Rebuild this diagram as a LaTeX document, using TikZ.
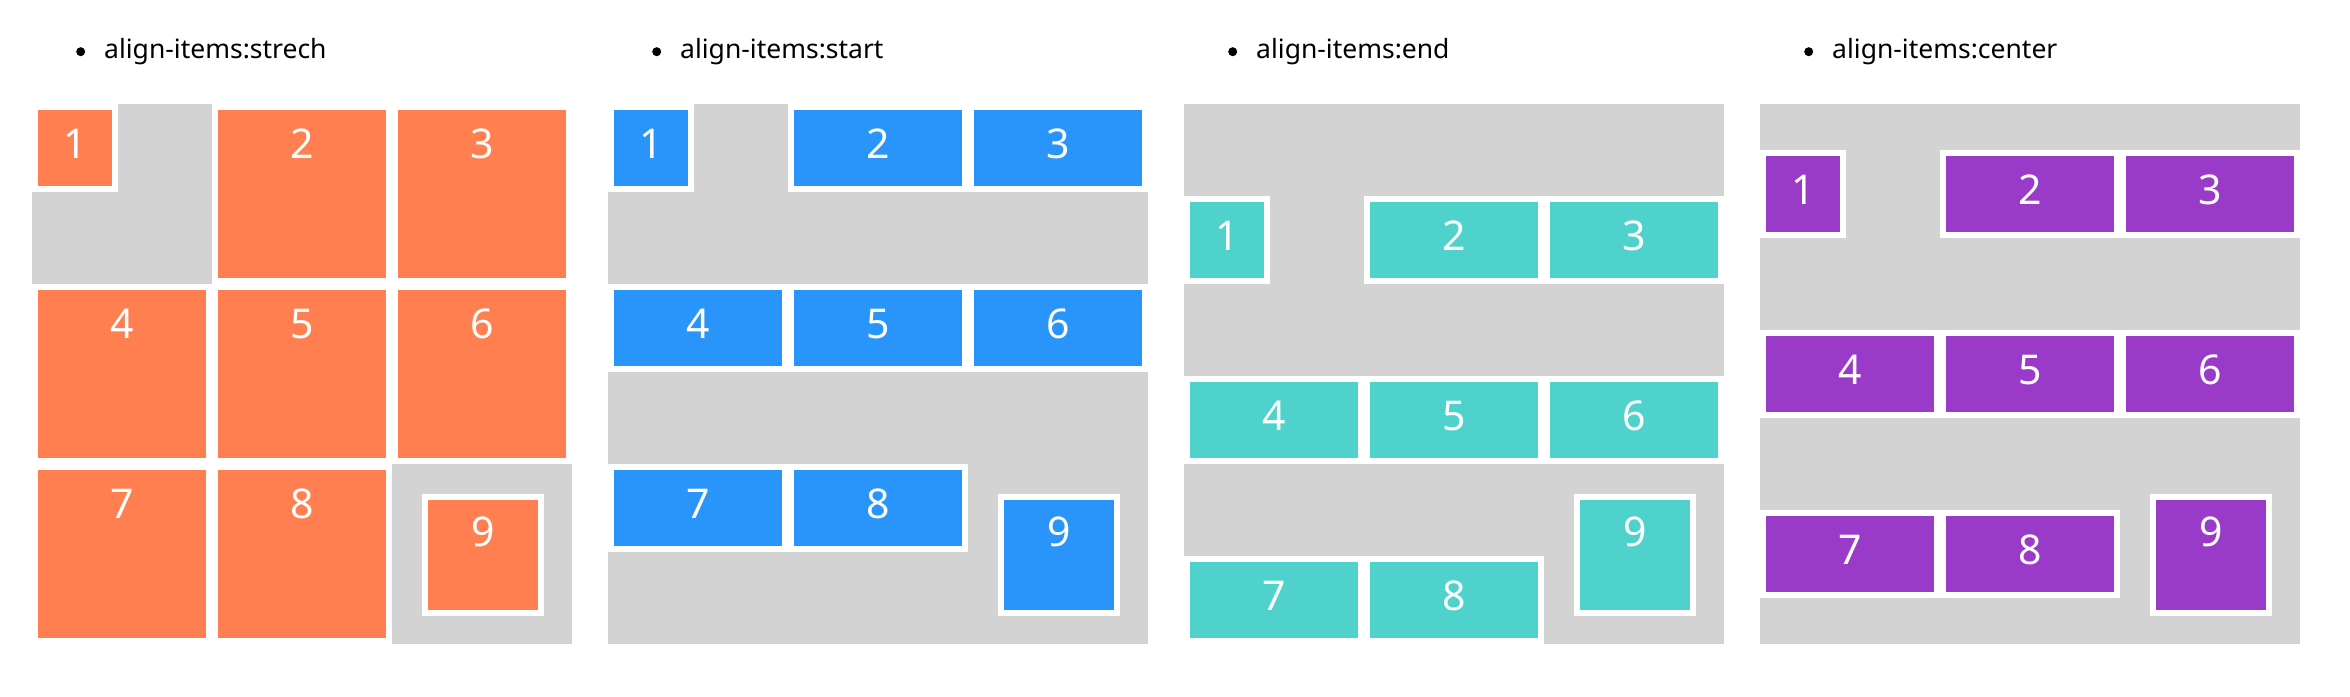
\documentclass[tikz,border=0pt]{standalone}
\usepackage{fontspec}
\setmainfont{Noto Sans}
\definecolor{coral}{HTML}{FF7F50}
\definecolor{dodger}{HTML}{2994F9}
\definecolor{turq}{HTML}{50D2CC}
\definecolor{orchid}{HTML}{993BC8}
\definecolor{boxgray}{HTML}{D3D3D3}
\tikzset{
  flexgrid/.style={fill=boxgray, inner sep=0pt, outer sep=0pt, minimum size=540pt, anchor=north west},
  item/.style={fill=#1, draw=white, line width=6pt, outer sep=3pt, inner sep=0pt,
    anchor=north west, text=white, font=\fontsize{41}{41}\selectfont},
  bigbox/.style={minimum width=174pt, minimum height=174pt, text height=51.5pt, text depth=122.5pt},
  rowbox/.style={minimum width=174pt, minimum height=82pt, text height=51.5pt, text depth=30.5pt},
  onebox/.style={minimum width=80pt, minimum height=82pt, text height=51.5pt, text depth=30.5pt},
  ninebox/.style={minimum width=116pt, minimum height=116pt, text height=49.5pt, text depth=66.5pt},
  bullet/.style={circle, fill=black, inner sep=0pt, minimum size=9pt},
  title/.style={anchor=base west, inner sep=0pt, font=\fontsize{26.5}{30}\selectfont}
}
\begin{document}
\begin{tikzpicture}[x=1pt, y=-1pt]
  \useasboundingbox (0,0) rectangle (2350,696);
  % stretch
  \node[flexgrid] (grid0) at (32,104) {};
  \node[bullet] (dot0) at (80.7,51.7) {};
  \node[title] (title0) at (104,58.3) {align-items:strech};
  \node[item=coral, onebox] (box0-1) at (32,104) {1};
  \foreach \n in {2,...,8} {
    \pgfmathtruncatemacro{\col}{mod(\n-1,3)}
    \pgfmathtruncatemacro{\row}{div(\n-1,3)}
    \node[item=coral, bigbox] (box0-\n) at (32+180*\col,104+180*\row) {\n};
  }
  \node[item=coral, ninebox] (box0-9) at (422,494) {9};
  % start, end, center
  \foreach \k/\c/\off/\txt in {1/dodger/0/start, 2/turq/92/end, 3/orchid/46/center} {
    \pgfmathsetmacro{\X}{32+576*\k}
    \node[flexgrid] (grid\k) at (\X,104) {};
    \node[bullet] (dot\k) at (\X+48.7,51.7) {};
    \node[title] (title\k) at (\X+72,58.3) {align-items:\txt};
    \node[item=\c, onebox] (box\k-1) at (\X,104+\off) {1};
    \foreach \n in {2,...,8} {
      \pgfmathtruncatemacro{\col}{mod(\n-1,3)}
      \pgfmathtruncatemacro{\row}{div(\n-1,3)}
      \node[item=\c, rowbox] (box\k-\n) at (\X+180*\col,104+180*\row+\off) {\n};
    }
    \node[item=\c, ninebox] (box\k-9) at (\X+390,494) {9};
  }
\end{tikzpicture}
\end{document}
